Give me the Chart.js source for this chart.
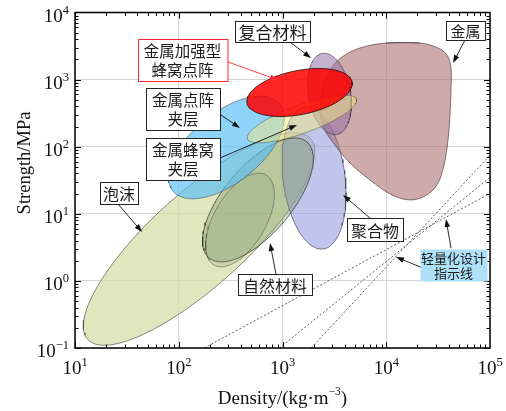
<!DOCTYPE html>
<html>
<head>
<meta charset="utf-8">
<script src="https://cdn.jsdelivr.net/npm/chart.js@4.4.1/dist/chart.umd.min.js"></script>
<style>
  html, body { margin: 0; padding: 0; background: #fff; }
  #wrap { width: 506px; height: 411px; }
</style>
</head>
<body>
<div id="wrap"><canvas id="chart" width="506" height="411"></canvas></div>
<script>
// Axis ranges (log–log): density in kg/m³, strength in MPa
const densityDecades = [10, 100, 1000, 10000, 100000];
const strengthDecades = [0.1, 1, 10, 100, 1000, 10000];

// Elliptical material regions in log–log space:
// [centre, end of first semi-axis, end of second semi-axis], each as [density, strength]
const foamRegion        = [[157, 4.21],  [1862, 132],  [78.1, 13.95]];
const naturalRegion     = [[580, 16.1],  [1718, 118],  [326, 34.0]];
const naturalCoreRegion = [[389, 8.09],  [693, 37.9],  [236, 12.6]];
const polymerRegion     = [[2014, 34.2], [1648, 391],  [3981, 39.1]];
const compositeRegion   = [[2838, 610],  [2410, 2449], [4487, 695]];
const latticeRegion     = [[288, 97.3],  [946, 433],   [176.9, 247.4]];
const honeycombRegion   = [[1542, 259],  [5164, 510],  [1714, 164]];
const reinforcedRegion  = [[1459, 642],  [4677, 921],  [1604, 306]];

// Metals: irregular outline, traced clockwise from the top edge
const metalDensity  = [9950, 21150, 31550, 38500, 42070, 42070, 41130, 39380, 36050, 30840, 23620,
                       16940, 11360, 6970, 4475, 3206, 2512, 2297, 2456, 2871, 3745, 5585];
const metalStrength = [3512, 3512, 2958, 2328, 1489, 700, 297, 126, 53.4, 26.9, 18.4,
                       16.1, 19.05, 31.9, 57.2, 106, 190, 378, 750, 1390, 2172, 2958];

// Lightweight design guidelines: [start, end]
const guideDensity  = [[176, 100000], [935, 100000], [1888, 100000]];
const guideStrength = [[0.1, 20.1],   [0.1, 34.8],   [0.1, 74.7]];

// Callout labels: box centre and arrows ([from, to]) in data units
const callouts = [
  { lines: ['复合材料'], at: [801, 5212], arrows: [[[1181, 3631], [1884, 2098]]],
    size: 17, padX: 3.5, padY: 1, lineH: 19 },
  { lines: ['金属加强型', '蜂窝点阵'], at: [108.6, 1959], arrows: [[[298.5, 1828], [906, 986]]],
    size: 15.5, padX: 6, padY: 2, lineH: 19, color: '#ff2a2a' },
  { lines: ['金属点阵', '夹层'], at: [109.9, 364.6], arrows: [[[238.8, 317.6], [389, 190]]],
    size: 15.5, padX: 6, padY: 2, lineH: 19 },
  { lines: ['金属蜂窝', '夹层'], at: [109.9, 64.5], arrows: [[[249.8, 67.9], [1380, 210.4]]],
    size: 15.5, padX: 6, padY: 2, lineH: 19 },
  { lines: ['泡沫'], at: [26.5, 20.4], arrows: [[[25.97, 14.0], [44.3, 5.36]]],
    size: 16, padX: 3, padY: 1, lineH: 20 },
  { lines: ['自然材料'], at: [847, 0.883], arrows: [[[865, 1.268], [758, 3.67]]],
    size: 16, padX: 5, padY: 1, lineH: 19 },
  { lines: ['聚合物'], at: [7800, 5.83], arrows: [[[6966, 8.65], [3828, 19.05]]],
    size: 16, padX: 4, padY: 2, lineH: 19 },
  { lines: ['金属'], at: [58000, 5395], arrows: [[[57400, 3890], [43950, 1767]]],
    size: 15, padX: 4.5, padY: 1, lineH: 17 },
  { lines: ['轻量化设计', '指示线'], at: [44460, 1.726],
    arrows: [[[22600, 1.556], [12420, 2.27]], [[42070, 3.09], [37670, 8.37]]],
    size: 13, padX: 1, padY: 1, lineH: 15, fill: '#aee0f8', noBorder: true }
];

const CJK = '"Noto Sans CJK SC", "Noto Sans CJK JP", sans-serif';
const SERIF = '"Liberation Serif", "DejaVu Serif", serif';

// Outline of an ellipse given in log space by centre and two conjugate semi-axis ends
function ellipseOutline(region, steps = 120) {
  const L = p => [Math.log10(p[0]), Math.log10(p[1])];
  const [c, a, b] = region.map(L);
  const pts = [];
  for (let i = 0; i <= steps; i++) {
    const t = (i / steps) * 2 * Math.PI;
    const lx = c[0] + Math.cos(t) * (a[0] - c[0]) + Math.sin(t) * (b[0] - c[0]);
    const ly = c[1] + Math.cos(t) * (a[1] - c[1]) + Math.sin(t) * (b[1] - c[1]);
    pts.push({ x: Math.pow(10, lx), y: Math.pow(10, ly) });
  }
  return pts;
}

function outlineFrom(xs, ys) {
  const pts = xs.map((x, i) => ({ x, y: ys[i] }));
  pts.push(pts[0], pts[1]);
  return pts;
}

// Layers from back to front
const layers = [
  { data: ellipseOutline(foamRegion),        fill: 'rgba(214,222,168,0.75)', edge: 'rgba(70,70,60,0.7)' },
  { data: ellipseOutline(polymerRegion),     fill: 'rgba(150,160,222,0.6)',  edge: 'rgba(60,60,80,0.75)' },
  { data: ellipseOutline(naturalRegion),     fill: 'rgba(125,150,105,0.38)', edge: 'rgba(45,50,40,0.8)' },
  { data: ellipseOutline(naturalCoreRegion), fill: 'rgba(120,150,100,0.22)', edge: 'rgba(60,60,60,0.5)' },
  { data: outlineFrom(metalDensity, metalStrength), fill: 'rgba(165,100,100,0.55)', edge: 'rgba(70,50,50,0.7)', tension: 0.35 },
  { data: ellipseOutline(compositeRegion),   fill: 'rgba(150,115,170,0.55)', edge: 'rgba(60,50,70,0.7)' },
  { data: ellipseOutline(latticeRegion),     fill: 'rgba(90,190,245,0.68)',  edge: 'rgba(50,70,90,0.6)' },
  { data: ellipseOutline(honeycombRegion),   fill: 'rgba(242,234,130,0.5)',  edge: 'rgba(90,90,60,0.6)' },
  { data: ellipseOutline(reinforcedRegion),  fill: 'rgba(255,0,0,0.85)',     edge: 'rgba(30,10,10,0.9)' }
];

const datasets = [];
const n = layers.length + guideDensity.length;
layers.forEach((l, i) => {
  datasets.push({
    data: l.data,
    backgroundColor: l.fill,
    borderColor: l.edge,
    borderWidth: 0.9,
    fill: 'shape',
    tension: l.tension || 0,
    pointRadius: 0,
    order: n - i
  });
});
guideDensity.forEach((xs, i) => {
  datasets.push({
    data: xs.map((x, j) => ({ x, y: guideStrength[i][j] })),
    borderColor: '#333',
    borderWidth: 0.8,
    borderDash: [2, 2],
    fill: false,
    pointRadius: 0,
    order: 0
  });
});

function drawArrow(ctx, x0, y0, x1, y1, color) {
  ctx.strokeStyle = color;
  ctx.fillStyle = color;
  ctx.lineWidth = 0.9;
  const ang = Math.atan2(y1 - y0, x1 - x0);
  const hl = 8, hw = 2.8;
  ctx.beginPath();
  ctx.moveTo(x0, y0);
  ctx.lineTo(x1 - Math.cos(ang) * hl * 0.8, y1 - Math.sin(ang) * hl * 0.8);
  ctx.stroke();
  ctx.beginPath();
  ctx.moveTo(x1, y1);
  ctx.lineTo(x1 - Math.cos(ang) * hl - Math.sin(ang) * hw, y1 - Math.sin(ang) * hl + Math.cos(ang) * hw);
  ctx.lineTo(x1 - Math.cos(ang) * hl + Math.sin(ang) * hw, y1 - Math.sin(ang) * hl - Math.cos(ang) * hw);
  ctx.closePath();
  ctx.fill();
}

function superLabel(v) {
  const e = Math.round(Math.log10(v));
  return e < 0 ? '\u2212' + (-e) : String(e);
}

const framePlugin = {
  id: 'frame',
  afterDraw(chart) {
    const { ctx, chartArea: a } = chart;
    const xs = chart.scales.x, ys = chart.scales.y;
    ctx.save();

    // Inward ticks on all four sides (major at decades, minor at 2–9)
    ctx.strokeStyle = '#000';
    ctx.lineWidth = 1;
    ctx.beginPath();
    for (let d = 0; d < densityDecades.length - 1; d++) {
      for (let k = 1; k <= 9; k++) {
        const v = densityDecades[d] * k;
        const px = Math.round(xs.getPixelForValue(v)) + 0.5;
        const len = k === 1 ? 6 : 3.5;
        ctx.moveTo(px, a.bottom); ctx.lineTo(px, a.bottom - len);
        ctx.moveTo(px, a.top); ctx.lineTo(px, a.top + len);
      }
    }
    for (let d = 0; d < strengthDecades.length - 1; d++) {
      for (let k = 1; k <= 9; k++) {
        const v = strengthDecades[d] * k;
        const py = Math.round(ys.getPixelForValue(v)) + 0.5;
        const len = k === 1 ? 6 : 3.5;
        ctx.moveTo(a.left, py); ctx.lineTo(a.left + len, py);
        ctx.moveTo(a.right, py); ctx.lineTo(a.right - len, py);
      }
    }
    ctx.stroke();

    ctx.lineWidth = 1.5;
    ctx.strokeRect(a.left, a.top, a.right - a.left, a.bottom - a.top);

    // Tick labels: 10 with superscript exponent
    ctx.fillStyle = '#111';
    ctx.textBaseline = 'alphabetic';
    const bigF = '19px ' + SERIF, supF = '12.5px ' + SERIF;
    densityDecades.forEach(v => {
      const px = xs.getPixelForValue(v);
      ctx.font = bigF; const w1 = ctx.measureText('10').width;
      ctx.font = supF; const s = superLabel(v); const w2 = ctx.measureText(s).width;
      const x0 = px - (w1 + w2) / 2;
      ctx.font = bigF; ctx.textAlign = 'left'; ctx.fillText('10', x0, 374);
      ctx.font = supF; ctx.fillText(s, x0 + w1, 366);
    });
    strengthDecades.forEach(v => {
      const py = ys.getPixelForValue(v);
      ctx.font = supF; const s = superLabel(v); const w2 = ctx.measureText(s).width;
      ctx.textAlign = 'right';
      ctx.fillText(s, 69, py + 1);
      ctx.font = bigF; ctx.fillText('10', 69 - w2, py + 9);
    });

    // Axis titles
    ctx.font = '18.5px ' + SERIF;
    ctx.save();
    ctx.translate(25, 163);
    ctx.rotate(-Math.PI / 2);
    ctx.textAlign = 'center';
    ctx.textBaseline = 'middle';
    ctx.fillText('Strength/MPa', 0, 0);
    ctx.restore();

    const tA = 'Density/(kg\u00b7m', tS = '\u22123', tB = ')';
    ctx.font = '19px ' + SERIF; const wA = ctx.measureText(tA).width, wB = ctx.measureText(tB).width;
    ctx.font = '11.5px ' + SERIF; const wS = ctx.measureText(tS).width;
    let tx = (a.left + a.right) / 2 - (wA + wS + wB) / 2;
    ctx.textAlign = 'left'; ctx.textBaseline = 'alphabetic';
    ctx.font = '19px ' + SERIF; ctx.fillText(tA, tx, 404); tx += wA;
    ctx.font = '11.5px ' + SERIF; ctx.fillText(tS, tx, 395); tx += wS;
    ctx.font = '19px ' + SERIF; ctx.fillText(tB, tx, 404);

    // Callouts: arrows first, boxes over their tails
    callouts.forEach(c => {
      const col = c.color || '#111';
      c.arrows.forEach(([p0, p1]) => {
        drawArrow(ctx, xs.getPixelForValue(p0[0]), ys.getPixelForValue(p0[1]),
                  xs.getPixelForValue(p1[0]), ys.getPixelForValue(p1[1]), col);
      });
    });
    callouts.forEach(c => {
      ctx.font = c.size + 'px ' + CJK;
      const w = Math.max(...c.lines.map(t => ctx.measureText(t).width)) + 2 * c.padX;
      const h = c.lines.length * c.lineH + 2 * c.padY;
      const cx = xs.getPixelForValue(c.at[0]), cy = ys.getPixelForValue(c.at[1]);
      const x0 = Math.round(cx - w / 2) + 0.5, y0 = Math.round(cy - h / 2) + 0.5;
      ctx.fillStyle = c.fill || '#fff';
      ctx.fillRect(x0, y0, w, h);
      if (!c.noBorder) {
        ctx.strokeStyle = c.color || '#222';
        ctx.lineWidth = 1;
        ctx.strokeRect(x0, y0, w, h);
      }
      ctx.fillStyle = '#1a1a1a';
      ctx.textAlign = 'center';
      ctx.textBaseline = 'middle';
      c.lines.forEach((t, i) => {
        ctx.fillText(t, cx, y0 + c.padY + c.lineH * (i + 0.5) + 0.5);
      });
    });
    ctx.restore();
  }
};

const zeroFit = s => { if (s.isHorizontal()) s.height = 0; else s.width = 0; };

new Chart(document.getElementById('chart'), {
  type: 'line',
  data: { datasets },
  options: {
    responsive: false,
    animation: false,
    events: [],
    layout: { padding: { left: 75, right: 16, top: 12.5, bottom: 63 } },
    plugins: { legend: { display: false }, tooltip: { enabled: false } },
    scales: {
      x: {
        type: 'logarithmic', min: 10, max: 100000,
        ticks: { display: false },
        grid: { color: '#d4d4d4', lineWidth: 1, drawTicks: false },
        border: { display: false },
        afterBuildTicks: s => { s.ticks = densityDecades.map(v => ({ value: v })); },
        afterFit: zeroFit
      },
      y: {
        type: 'logarithmic', min: 0.1, max: 10000,
        ticks: { display: false },
        grid: { color: '#d4d4d4', lineWidth: 1, drawTicks: false },
        border: { display: false },
        afterBuildTicks: s => { s.ticks = strengthDecades.map(v => ({ value: v })); },
        afterFit: zeroFit
      }
    }
  },
  plugins: [framePlugin]
});
</script>
</body>
</html>
